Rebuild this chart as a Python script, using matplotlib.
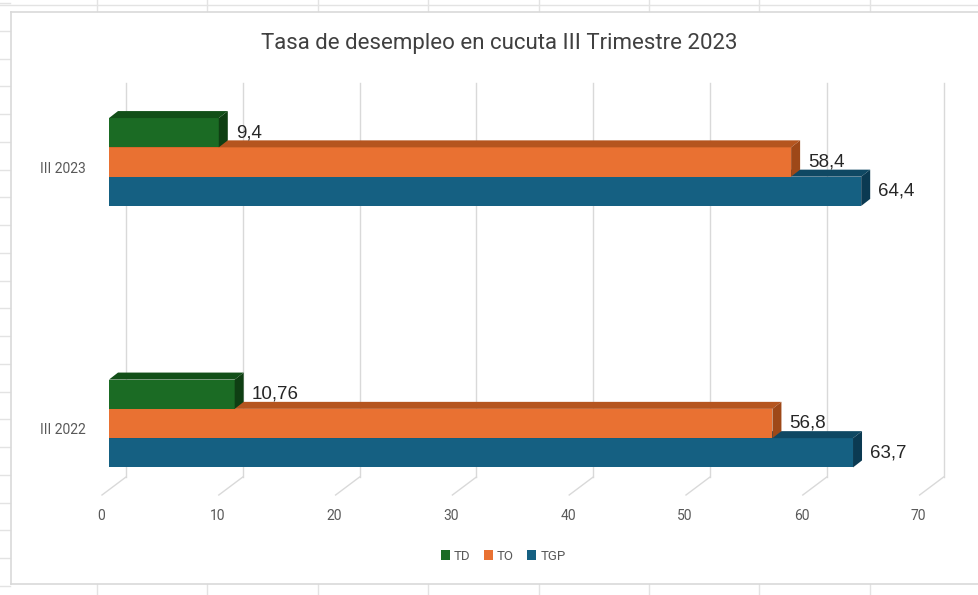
import numpy as np
import matplotlib.pyplot as plt
from matplotlib.patches import Polygon, Patch
from matplotlib.lines import Line2D

# datos del grafico
categorias = ['III 2022', 'III 2023']
series = ['TD', 'TO', 'TGP']
td = [10.76, 9.4]
to = [56.8, 58.4]
tgp = [63.7, 64.4]
ticks = [0, 10, 20, 30, 40, 50, 60, 70]

# colores (cara frontal, cara superior, cara lateral)
colores = {
    'TD': ('#1b6b24', '#124f18', '#0f3f13'),
    'TO': ('#e97132', '#b5551f', '#9e4818'),
    'TGP': ('#156082', '#0f4863', '#0b3a52'),
}

W, H = 979, 595
fig = plt.figure(figsize=(W / 100, H / 100), dpi=100)
fig.patch.set_facecolor('white')


def fx(x):
    return x / W


def fy(y):
    return 1 - y / H


# cuadricula de la hoja de calculo alrededor del grafico
gris_hoja = '#e3e3e3'
for xc in np.arange(97, W, 110.4):
    fig.add_artist(Line2D([fx(xc), fx(xc)], [fy(0), fy(11)], color=gris_hoja, lw=1))
    fig.add_artist(Line2D([fx(xc), fx(xc)], [fy(584), fy(H)], color=gris_hoja, lw=1))
fig.add_artist(Line2D([0, 1], [fy(5), fy(5)], color=gris_hoja, lw=1))
for yr in np.arange(3, H, 27.75):
    fig.add_artist(Line2D([0, fx(10)], [fy(yr), fy(yr)], color=gris_hoja, lw=1))

# borde del area del grafico
borde = '#d9d9d9'
fig.add_artist(Line2D([fx(10.5), 1], [fy(11.5), fy(11.5)], color=borde, lw=1.2))
fig.add_artist(Line2D([fx(10.5), fx(10.5)], [fy(11.5), fy(583.5)], color=borde, lw=1.2))
fig.add_artist(Line2D([fx(10.5), 1], [fy(583.5), fy(583.5)], color=borde, lw=1.2))

# ejes: plano frontal de las barras
sx = 11.68      # px por unidad en x
sy = 261.5      # px por categoria
x0_px, piso_px, techo_px = 109, 490, 96
ax = fig.add_axes([fx(x0_px), fy(piso_px), 70 * sx / W, (piso_px - techo_px) / H])
ylo = -(piso_px - 423.5) / sy
yhi = ylo + (piso_px - techo_px) / sy
ax.set_xlim(0, 70)
ax.set_ylim(ylo, yhi)
ax.axis('off')

# profundidades en unidades de datos
def dx(p):
    return p / sx


def dy(p):
    return p / sy


# lineas de division en la pared del fondo y en el piso
for v in ticks:
    ax.plot([v + dx(17), v + dx(17)], [ylo + dy(13), yhi + dy(13)],
            color='#d9d9d9', lw=1, clip_on=False, zorder=1)
    ax.plot([v + dx(17), v - dx(7)], [ylo + dy(13), ylo - dy(5)],
            color='#d9d9d9', lw=1, clip_on=False, zorder=1)
    ax.annotate(str(v), xy=(v, ylo), xytext=(-8, -26), textcoords='offset pixels',
                ha='center', va='center', fontsize=10, color='#595959',
                family='Roboto', annotation_clip=False)

# barras con efecto 3d
h = 0.112
prof_x, prof_y = dx(9), dy(7)
valores = {'TD': td, 'TO': to, 'TGP': tgp}
desplaz = {'TD': h, 'TO': 0.0, 'TGP': -h}
z = 3
for s in ['TGP', 'TO', 'TD']:
    frente, arriba, lado = colores[s]
    for i, v in enumerate(valores[s]):
        yc = i + desplaz[s]
        y0, y1 = yc - h / 2, yc + h / 2
        ax.barh(yc, v, height=h, left=0, color=frente, zorder=z)
        ax.add_patch(Polygon([(0, y1), (v, y1), (v + prof_x, y1 + prof_y), (prof_x, y1 + prof_y)],
                             closed=True, facecolor=arriba, edgecolor='none', zorder=z, clip_on=False))
        ax.add_patch(Polygon([(v, y0), (v + prof_x, y0 + prof_y), (v + prof_x, y1 + prof_y), (v, y1)],
                             closed=True, facecolor=lado, edgecolor='none', zorder=z, clip_on=False))
        ax.annotate(str(v).replace('.', ','), xy=(v, yc), xytext=(17, 0),
                    textcoords='offset pixels', ha='left', va='center',
                    fontsize=13.5, color='#262626', family='Liberation Sans',
                    zorder=10, annotation_clip=False)
    z += 1

# etiquetas de categoria
for i, c in enumerate(categorias):
    ax.annotate(c, xy=(0, i), xytext=(-23, -7), textcoords='offset pixels',
                ha='right', va='center', fontsize=10, color='#595959',
                family='Roboto', annotation_clip=False)

fig.text(fx(499.5), fy(44), 'Tasa de desempleo en cucuta III Trimestre 2023',
         ha='center', va='center', fontsize=16, color='#404040', family='Roboto')

manijas = [Patch(facecolor=colores[s][0], label=s) for s in series]
fig.legend(handles=manijas, loc='center', bbox_to_anchor=(fx(503), fy(556)), ncol=3,
           frameon=False, handlelength=0.7, handleheight=0.7, handletextpad=0.3,
           columnspacing=1.0, prop={'family': 'Roboto', 'size': 9.5},
           labelcolor='#595959')

fig.savefig('out.png', dpi=100)
